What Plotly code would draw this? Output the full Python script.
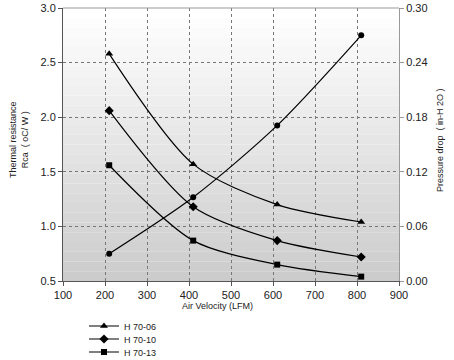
import plotly.graph_objects as go

velocity = [210, 410, 610, 810]
h70_06 = [2.58, 1.57, 1.20, 1.04]
h70_10 = [2.06, 1.18, 0.87, 0.72]
h70_13 = [1.56, 0.87, 0.65, 0.54]
pressure = [0.030, 0.092, 0.171, 0.270]

x_ticks = [100, 200, 300, 400, 500, 600, 700, 800, 900]
y_ticks = [0.5, 1.0, 1.5, 2.0, 2.5, 3.0]
y2_ticks = [0.00, 0.06, 0.12, 0.18, 0.24, 0.30]

FONT = "Liberation Sans, Arial, sans-serif"
W, H = 454, 360
PL, PR, PT, PB = 63, 55, 8, 79
PW, PH = W - PL - PR, H - PT - PB

def py(page_y):
    return (H - PB - page_y) / PH

def px(page_x):
    return (page_x - PL) / PW

fig = go.Figure()

series = [("H 70-06", h70_06, "triangle-up", 7, "legend", 326),
          ("H 70-10", h70_10, "diamond", 7, "legend2", 339),
          ("H 70-13", h70_13, "square", 6, "legend3", 352)]
for name, vals, sym, sz, lg, _ in series:
    fig.add_trace(go.Scatter(
        x=velocity, y=vals, name=name, mode="lines+markers", legend=lg,
        line=dict(color="black", width=1.2, shape="spline", smoothing=0.8),
        marker=dict(symbol=sym, size=sz, color="black"),
    ))

fig.add_trace(go.Scatter(
    x=velocity, y=pressure, yaxis="y2", showlegend=False, mode="lines+markers",
    line=dict(color="black", width=1.2, shape="spline", smoothing=0.8),
    marker=dict(symbol="circle", size=6, color="black"),
))

# gradient background bands
n = 28
shapes = []
for i in range(n):
    t = i / (n - 1)
    v = int(round(255 - (255 - 204) * t))
    shapes.append(dict(
        type="rect", xref="x domain", yref="y domain",
        x0=0, x1=1, y0=1 - (i + 1) / n, y1=1 - i / n,
        fillcolor=f"rgb({v},{v},{v})", line=dict(width=0), layer="below",
    ))

legend_common = dict(
    xanchor="left", yanchor="middle", font=dict(size=9, color="#222"),
    bgcolor="rgba(0,0,0,0)", itemwidth=30, borderwidth=0,
)

fig.update_layout(
    width=W, height=H,
    margin=dict(l=PL, r=PR, t=PT, b=PB, autoexpand=False),
    paper_bgcolor="white", plot_bgcolor="white",
    font=dict(family=FONT, size=11, color="#222"),
    shapes=shapes,
    xaxis=dict(
        range=[100, 900], tickvals=x_ticks, ticktext=[str(v) for v in x_ticks],
        showgrid=True, gridcolor="#777", griddash="3px,3px", gridwidth=1,
        showline=True, linecolor="#555", linewidth=1, mirror=False,
        ticks="outside", ticklen=4, tickcolor="#555", zeroline=False,
        tickfont=dict(size=11, color="#222"),
    ),
    yaxis=dict(
        range=[0.5, 3.0], tickvals=y_ticks, ticktext=[f"{v:.1f}" for v in y_ticks],
        showgrid=True, gridcolor="#777", griddash="3px,3px", gridwidth=1,
        showline=True, linecolor="#555", linewidth=1,
        ticks="outside", ticklen=4, tickcolor="#555", zeroline=False,
        tickfont=dict(size=11, color="#222"),
    ),
    yaxis2=dict(
        range=[0.0, 0.30], tickvals=y2_ticks, ticktext=[f"{v:.2f}" for v in y2_ticks],
        overlaying="y", side="right", showgrid=False, zeroline=False,
        showline=True, linecolor="#999", linewidth=1,
        ticks="outside", ticklen=4, tickcolor="#999",
        tickfont=dict(size=11, color="#222"),
    ),
    legend=dict(x=px(84), y=py(326), **legend_common),
    legend2=dict(x=px(84), y=py(339), **legend_common),
    legend3=dict(x=px(84), y=py(352), **legend_common),
    annotations=[
        dict(text="Air Velocity (LFM)", xref="paper", yref="paper",
             x=px(217), y=py(306), xanchor="center", yanchor="middle",
             showarrow=False, font=dict(size=9, color="#222")),
        dict(text="Thermal resistance<br>Rca  ( oC/ W )", xref="paper", yref="paper",
             x=px(19), y=py(140), xanchor="center", yanchor="middle",
             textangle=-90, showarrow=False, font=dict(size=9, color="#222")),
        dict(text="Pressure drop  ( in-H 2O )", xref="paper", yref="paper",
             x=px(440), y=py(140), xanchor="center", yanchor="middle",
             textangle=-90, showarrow=False, font=dict(size=9, color="#222")),
    ],
)

# top border line
fig.add_shape(type="line", xref="x domain", yref="y domain", x0=0, x1=1, y0=1, y1=1,
              line=dict(color="#999", width=1))

fig.write_html("out.html",
               config={"displayModeBar": False},
               post_script="document.body.style.margin='0';document.body.style.padding='0';")
